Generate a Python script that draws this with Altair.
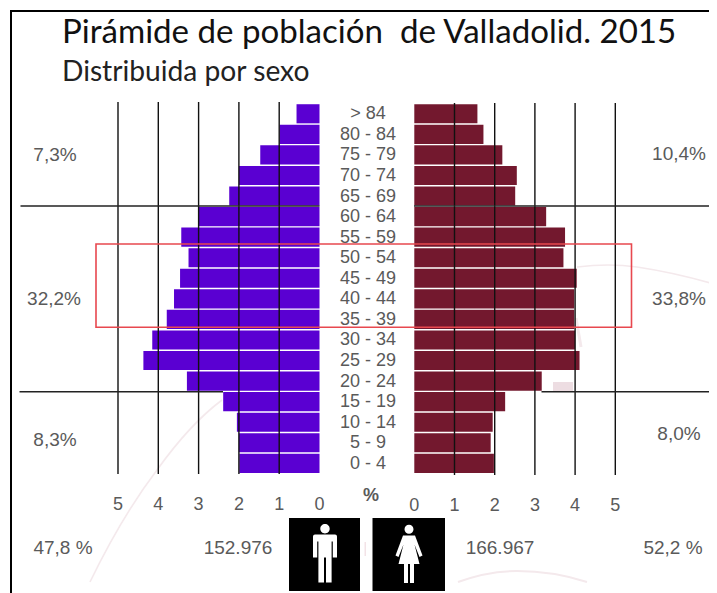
import altair as alt
import pandas as pd

ages = ["> 84", "80 - 84", "75 - 79", "70 - 74", "65 - 69", "60 - 64", "55 - 59", "50 - 54", "45 - 49",
        "40 - 44", "35 - 39", "30 - 34", "25 - 29", "20 - 24", "15 - 19", "10 - 14", "5 - 9", "0 - 4"]
male = [0.57, 0.99, 1.47, 2.0, 2.24, 3.01, 3.43, 3.25, 3.46, 3.61, 3.79, 4.15, 4.37, 3.29, 2.39, 2.05, 2.0, 1.99]
female = [1.57, 1.72, 2.19, 2.55, 2.51, 3.28, 3.75, 3.71, 4.04, 3.98, 3.98, 4.0, 4.11, 3.17, 2.26, 1.95, 1.9, 1.98]
ticks = [0, 1, 2, 3, 4, 5]

W, H = 701, 585
def px(v):
    return v - 8

df = pd.DataFrame({"age": ages, "male": male, "female": female})
tk = pd.DataFrame({"t": ticks})
grid = pd.DataFrame({"t": ticks[1:]})

xm = alt.Scale(domain=[0, 5], range=[px(319.5), px(118)], clamp=False)
xf = alt.Scale(domain=[0, 5], range=[px(414.3), px(615.3)], clamp=False)
ys = alt.Scale(domain=ages, range=[px(103.5), px(473.6)], paddingInner=0.07, paddingOuter=0.035)

GREY = "#5a5a5a"
FONT = "Liberation Sans"
PURPLE = "#5a00d2"
MAROON = "#73182e"


def txt(s, x, y, size=18, color=GREY, font=FONT, align="center", weight="normal"):
    return alt.Chart(pd.DataFrame({"s": [s]})).mark_text(
        font=font, fontSize=size, color=color, align=align, baseline="middle", fontWeight=weight
    ).encode(text="s:N", x=alt.value(px(x)), y=alt.value(px(y + 1.5)))


def rule(x1, x2, y1, y2, color="#222222", w=1.5):
    return alt.Chart(pd.DataFrame({"a": [0]})).mark_rule(color=color, strokeWidth=w).encode(
        x=alt.value(px(x1)), x2=alt.value(px(x2)), y=alt.value(px(y1)), y2=alt.value(px(y2)))


def box(x1, x2, y1, y2, fill):
    return alt.Chart(pd.DataFrame({"a": [0]})).mark_rect(color=fill).encode(
        x=alt.value(px(x1)), x2=alt.value(px(x2)), y=alt.value(px(y1)), y2=alt.value(px(y2)))


def symbol(path, x, y, fill=None, stroke=None, w=1.0):
    kw = dict(filled=True, fill=fill, stroke=None, strokeWidth=0) if fill else dict(filled=False, stroke=stroke, strokeWidth=w)
    return alt.Chart(pd.DataFrame({"a": [0]})).mark_point(shape=path, size=4, opacity=1, **kw).encode(
        x=alt.value(px(x)), y=alt.value(px(y)))


MAN = ("M-4.7,-24.8 a4.7,4.7 0 1,0 9.4,0 a4.7,4.7 0 1,0 -9.4,0 Z "
       "M-12,-17 Q-12,-19 -10,-19 L10,-19 Q12,-19 12,-17 L12,4 L7.8,4 L7.8,-12 L6.6,-12 L6.6,29 L1,29 L1,4 "
       "L-1,4 L-1,29 L-6.6,29 L-6.6,-12 L-7.8,-12 L-7.8,4 L-12,4 Z")
WOMAN = ("M-4.5,-24.2 a4.5,4.5 0 1,0 9,0 a4.5,4.5 0 1,0 -9,0 Z "
         "M-6,-18 L6,-18 L13.5,2 L10.5,3.5 L5.5,-9 L10.5,10.5 L5,10.5 L5,29.5 L1,29.5 L1,10.5 L-1,10.5 "
         "L-1,29.5 L-5,29.5 L-5,10.5 L-10.5,10.5 L-5.5,-9 L-10.5,3.5 L-13.5,2 Z")
ARC_A = "M0,0 Q32,-66 67,-112 Q100,-158 132,-182"
ARC_B = "M0,0 Q32,-4 60,0 Q100,6 140,18"
ARC_C = "M0,0 Q30,-11 59,-11 Q95,-11 129,0"
ARC_D = "M0,0 L5,29"
WM = "#f4e9ec"

layers = [
    # faint watermark behind the chart
    symbol(ARC_A, 90, 582, stroke=WM, w=1.6),
    symbol(ARC_B, 577, 267, stroke=WM, w=1.6),
    symbol(ARC_C, 458, 582, stroke=WM, w=2),
    symbol(ARC_D, 576, 318, stroke=WM, w=3),
    box(553, 573, 382, 391, "#eddde2"),
    box(364.5, 366, 542, 556, "#f3e3e7"),
    # bars
    alt.Chart(df).mark_bar(color=PURPLE).encode(
        x=alt.X("male:Q", scale=xm, axis=None), y=alt.Y("age:N", scale=ys, axis=None)),
    alt.Chart(df).mark_bar(color=MAROON).encode(
        x=alt.X("female:Q", scale=xf, axis=None), y=alt.Y("age:N", scale=ys, axis=None)),
    # vertical reference lines
    alt.Chart(grid).mark_rule(color="#111111", strokeWidth=1.4).encode(
        x=alt.X("t:Q", scale=xm, axis=None), y=alt.value(px(102)), y2=alt.value(px(474))),
    alt.Chart(grid).mark_rule(color="#111111", strokeWidth=1.4).encode(
        x=alt.X("t:Q", scale=xf, axis=None), y=alt.value(px(103)), y2=alt.value(px(475))),
    # tick labels
    alt.Chart(tk).mark_text(font=FONT, fontSize=18, color=GREY, baseline="middle").encode(
        x=alt.X("t:Q", scale=xm, axis=None), y=alt.value(px(504.5)), text="t:Q"),
    alt.Chart(tk).mark_text(font=FONT, fontSize=18, color=GREY, baseline="middle").encode(
        x=alt.X("t:Q", scale=xf, axis=None), y=alt.value(px(505.5)), text="t:Q"),
    # age labels
    alt.Chart(df).mark_text(font=FONT, fontSize=18, color=GREY, baseline="middle", align="center", dy=0.5).encode(
        x=alt.value(px(368)), y=alt.Y("age:N", scale=ys, axis=None), text="age:N"),
    # horizontal separators
    rule(20.5, 319.5, 206, 206),
    rule(414, 713, 206, 206),
    rule(19.5, 223, 391.7, 391.7),
    rule(541.5, 713, 391.7, 391.7),
    # highlight box
    alt.Chart(pd.DataFrame({"a": [0]})).mark_rect(fill=None, stroke="#e8484f", strokeWidth=1.6).encode(
        x=alt.value(px(96)), x2=alt.value(px(631.5)), y=alt.value(px(244)), y2=alt.value(px(327.3))),
    # frame
    rule(11, 11, 10, 593, color="#000000", w=2),
    rule(10, 717, 11, 11, color="#000000", w=2),
    # titles
    txt("Pirámide de población \u00a0de Valladolid. 2015", 62, 31, size=33.1, color="#111111", font="Lato", align="left"),
    txt("Distribuida por sexo", 62, 71.5, size=28.2, color="#222222", font="Lato", align="left"),
    # group shares
    txt("7,3%", 55, 153, size=19), txt("10,4%", 679, 152, size=19),
    txt("32,2%", 54, 297, size=19), txt("33,8%", 679, 297, size=19),
    txt("8,3%", 55, 438, size=19), txt("8,0%", 679, 432, size=19),
    txt("%", 371, 494, size=18, weight="bold"),
    # totals
    txt("47,8 %", 63, 546, size=19), txt("152.976", 238, 546, size=19),
    txt("166.967", 500, 546, size=19), txt("52,2 %", 673, 546, size=19),
    # icons
    box(289, 360, 518, 591, "#000000"),
    box(372.5, 445, 518, 591, "#000000"),
    symbol(MAN, 325, 553.5, fill="#ffffff"),
    symbol(WOMAN, 409, 553.5, fill="#ffffff"),
]

chart = alt.layer(*layers).resolve_scale(x="independent").properties(
    width=W, height=H, padding=0, autosize=alt.AutoSizeParams(type="none"),
    background="white"
).configure_view(stroke=None)

chart.save("out.html", embed_options={"renderer": "svg", "actions": False})
